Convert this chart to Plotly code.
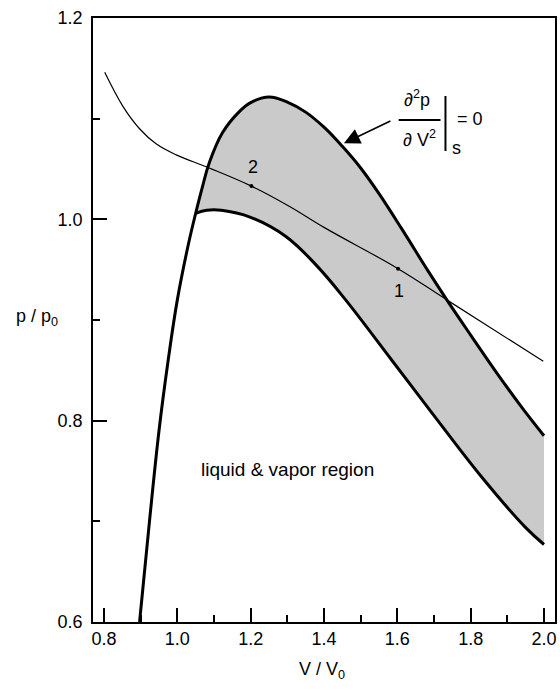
import plotly.graph_objects as go

# Saturation boundary: steep left branch that continues into the upper curve
left_v = [0.897, 0.924, 0.950, 0.975, 1.000, 1.030]
left_p = [0.600, 0.700, 0.790, 0.860, 0.920, 0.975]

upper_v = [1.050, 1.069, 1.087, 1.123, 1.169, 1.200, 1.250, 1.300, 1.350, 1.400,
           1.450, 1.500, 1.550, 1.613, 1.685, 1.735, 1.800, 1.870, 1.940, 2.000]
upper_p = [1.006, 1.033, 1.056, 1.086, 1.107, 1.116, 1.1215, 1.1165, 1.1065, 1.0915,
           1.0725, 1.051, 1.0255, 0.990, 0.948, 0.920, 0.885, 0.848, 0.813, 0.785]

lower_v = [1.050, 1.080, 1.120, 1.200, 1.296, 1.380, 1.459, 1.585, 1.700, 1.830,
           1.948, 2.000]
lower_p = [1.006, 1.009, 1.009, 1.002, 0.983, 0.954, 0.920, 0.860, 0.805, 0.744,
           0.6945, 0.677]

# Isentrope
thin_v = [0.802, 0.852, 0.897, 0.942, 0.997, 1.087, 1.202, 1.305, 1.400,
          1.602, 1.735, 1.998]
thin_p = [1.146, 1.112, 1.090, 1.075, 1.064, 1.051, 1.033, 1.013, 0.992,
          0.951, 0.920, 0.859]

# Marked states
state_labels = ["2", "1"]
state_v = [1.202, 1.602]
state_p = [1.033, 0.951]

x_major = [0.8, 1.0, 1.2, 1.4, 1.6, 1.8, 2.0]
x_major_text = ["0.8", "1.0", "1.2", "1.4", "1.6", "1.8", "2.0"]
x_minor = [0.9, 1.1, 1.3, 1.5, 1.7, 1.9]
y_major = [0.6, 0.8, 1.0, 1.2]
y_major_text = ["0.6", "0.8", "1.0", "1.2"]
y_minor = [0.7, 0.9, 1.1]

X_RANGE = [0.77, 2.03]
Y_RANGE = [0.6, 1.2]

FONT = "Liberation Sans, Arial, Helvetica, sans-serif"
SMOOTH = 1.1

# plot-area pixel box used for placing the annotation pieces
L, R, T, B = 93, 557, 18, 622


def px(xp):
    return (xp - L) / (R - L)


def py(yp):
    return (B - yp) / (B - T)


outer_v = left_v + upper_v
outer_p = left_p + upper_p

fig = go.Figure()

# shaded band enclosed by the upper curve and the lower curve (closed at V/V0 = 2)
fig.add_trace(go.Scatter(
    x=upper_v + lower_v[::-1], y=upper_p + lower_p[::-1],
    mode="lines", fill="toself", fillcolor="rgb(202,202,202)",
    line=dict(width=0, color="rgba(0,0,0,0)"),
    hoverinfo="skip", showlegend=False))

for xs, ys in [(outer_v, outer_p), (lower_v, lower_p)]:
    fig.add_trace(go.Scatter(
        x=xs, y=ys, mode="lines",
        line=dict(color="black", width=3, shape="spline", smoothing=SMOOTH),
        showlegend=False))

fig.add_trace(go.Scatter(
    x=thin_v, y=thin_p, mode="lines",
    line=dict(color="black", width=1.2, shape="spline", smoothing=SMOOTH),
    showlegend=False))

fig.add_trace(go.Scatter(
    x=state_v, y=state_p, mode="markers",
    marker=dict(color="black", size=4), showlegend=False))

# empty trace that carries the minor-tick axes
fig.add_trace(go.Scatter(x=[], y=[], xaxis="x2", yaxis="y2", showlegend=False,
                         hoverinfo="skip"))

center = dict(xanchor="center", yanchor="middle", showarrow=False)
annotations = []
# state labels above / below their points
annotations.append(dict(x=state_v[0] + 0.003, y=state_p[0] + 0.019, text=state_labels[0],
                        font=dict(size=18, family=FONT, color="black"), **center))
annotations.append(dict(x=state_v[1] + 0.002, y=state_p[1] - 0.022, text=state_labels[1],
                        font=dict(size=18, family=FONT, color="black"), **center))

annotations.append(dict(x=1.30, y=0.751, text="liquid &amp; vapor region",
                        font=dict(size=19, family=FONT, color="black"), **center))

# derivative condition label
formula_font = dict(size=18, family=FONT, color="black")
annotations += [
    dict(xref="paper", yref="paper", x=px(418), y=py(99), text="∂<sup>2</sup>p",
         font=formula_font, **center),
    dict(xref="paper", yref="paper", x=px(421), y=py(138), text="∂ V<sup>2</sup>",
         font=formula_font, **center),
    dict(xref="paper", yref="paper", x=px(471.5), y=py(119), text="= 0",
         font=formula_font, **center),
    dict(xref="paper", yref="paper", x=px(458), y=py(148), text="s",
         font=formula_font, **center),
    dict(xref="paper", yref="paper", x=px(345), y=py(143.3), text="",
         showarrow=True, arrowhead=2, arrowsize=2, arrowwidth=1.6, arrowcolor="black",
         ax=48, ay=-23),
]

# axis titles
annotations += [
    dict(xref="paper", yref="paper", x=px(323), y=py(670), text="V / V<sub>0</sub>",
         font=dict(size=18, family=FONT, color="black"), **center),
    dict(xref="paper", yref="paper", x=px(37), y=py(317), text="p / p<sub>0</sub>",
         font=dict(size=18, family=FONT, color="black"), **center),
]

shapes = [
    dict(type="line", xref="paper", yref="paper", x0=px(400), x1=px(442),
         y0=py(120), y1=py(120), line=dict(color="black", width=2)),
    dict(type="line", xref="paper", yref="paper", x0=px(447), x1=px(447),
         y0=py(96), y1=py(151), line=dict(color="black", width=2)),
]

axis_common = dict(
    showgrid=False, zeroline=False, showline=True, linecolor="black", linewidth=1.5,
    mirror=True, ticks="inside", ticklen=14, tickwidth=2, tickcolor="#000000",
    tickfont=dict(size=18, family=FONT, color="black"),
)
minor_common = dict(
    showgrid=False, zeroline=False, showline=False, showticklabels=False,
    mirror=True, ticks="inside", ticklen=7, tickwidth=2, tickcolor="#000000",
)

fig.update_layout(
    width=560, height=690,
    margin=dict(l=L, r=560 - R, t=T, b=690 - B),
    paper_bgcolor="white", plot_bgcolor="white",
    xaxis=dict(range=X_RANGE, tickmode="array", tickvals=x_major,
               ticktext=x_major_text, **axis_common),
    yaxis=dict(range=Y_RANGE, tickmode="array", tickvals=y_major,
               ticktext=[t + "\u00a0" for t in y_major_text], **axis_common),
    xaxis2=dict(range=X_RANGE, overlaying="x", anchor="y", side="bottom",
                tickmode="array", tickvals=x_minor, **minor_common),
    yaxis2=dict(range=Y_RANGE, overlaying="y", anchor="x", side="left",
                tickmode="array", tickvals=y_minor, **minor_common),
    annotations=annotations,
    shapes=shapes,
)

fig.write_html("out.html")
